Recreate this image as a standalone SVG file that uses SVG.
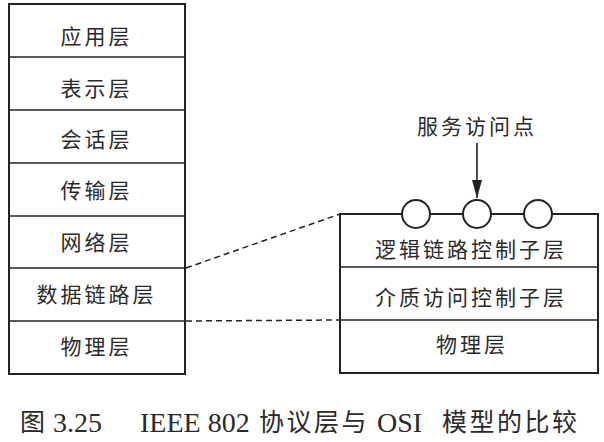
<svg xmlns="http://www.w3.org/2000/svg" width="604" height="442" viewBox="0 0 604 442">
<style>
.box{fill:none;stroke:#222;stroke-width:2}
.div{stroke:#222;stroke-width:1.6}
.lbl{font-family:"Noto Sans CJK SC","Noto Sans",sans-serif;font-size:21px;letter-spacing:3px;fill:#2a2a2a;text-anchor:middle}
.cap{font-family:"Liberation Serif","Noto Sans CJK SC",serif;font-size:28px;fill:#2a2a2a}
.capc{font-family:"Noto Sans CJK SC",sans-serif;font-size:25px;letter-spacing:2.5px;fill:#2a2a2a}
.dash{fill:none;stroke:#222;stroke-width:1.5;stroke-dasharray:6 4}
.sap{fill:#fff;stroke:#222;stroke-width:2}
</style>
<defs>
<marker id="ah" markerWidth="18" markerHeight="10" refX="18" refY="5" orient="auto" markerUnits="userSpaceOnUse">
<path d="M0,0 L18,5 L0,10 Z" fill="#222"/>
</marker>
</defs>
<rect width="604" height="442" fill="#fff"/>
<g id="osi">
<rect class="box" x="9" y="4" width="176" height="370"/>
<line class="div" x1="9" y1="57" x2="185" y2="57"/>
<line class="div" x1="9" y1="110" x2="185" y2="110"/>
<line class="div" x1="9" y1="163" x2="185" y2="163"/>
<line class="div" x1="9" y1="216" x2="185" y2="216"/>
<line class="div" x1="9" y1="268" x2="185" y2="268"/>
<line class="div" x1="9" y1="321" x2="185" y2="321"/>
</g>
<g id="osi-app"><text class="lbl" x="96.5" y="44">应用层</text></g>
<g id="osi-pres"><text class="lbl" x="96.5" y="96">表示层</text></g>
<g id="osi-sess"><text class="lbl" x="96.5" y="146.5">会话层</text></g>
<g id="osi-trans"><text class="lbl" x="96.5" y="198">传输层</text></g>
<g id="osi-net"><text class="lbl" x="96.5" y="249.5">网络层</text></g>
<g id="osi-dl"><text class="lbl" x="96.5" y="301.5">数据链路层</text></g>
<g id="osi-phy"><text class="lbl" x="96.5" y="354">物理层</text></g>
<g id="ieee">
<rect class="box" x="340" y="214" width="258" height="159"/>
<line class="div" x1="340" y1="267" x2="598" y2="267"/>
<line class="div" x1="340" y1="320" x2="598" y2="320"/>
</g>
<g id="ieee-llc"><text class="lbl" x="471" y="256.5">逻辑链路控制子层</text></g>
<g id="ieee-mac"><text class="lbl" x="471" y="304.5">介质访问控制子层</text></g>
<g id="ieee-phy"><text class="lbl" x="472" y="352">物理层</text></g>
<g id="sap1"><circle class="sap" cx="416" cy="214" r="14"/></g>
<g id="sap2"><circle class="sap" cx="477" cy="214" r="14"/></g>
<g id="sap3"><circle class="sap" cx="538" cy="214" r="14"/></g>
<g id="sap-label"><text class="lbl" x="477" y="134">服务访问点</text></g>
<g id="connectors">
<line class="dash" x1="186" y1="268" x2="340" y2="214"/>
<line class="dash" x1="186" y1="321" x2="340" y2="320"/>
<line x1="477" y1="143" x2="477" y2="198" stroke="#222" stroke-width="1.6" marker-end="url(#ah)"/>
</g>
<g id="caption">
<text class="capc" x="20" y="431">图</text>
<text class="cap" x="53" y="432">3.25</text>
<text class="cap" x="140" y="432">IEEE 802</text>
<text class="capc" x="259" y="431">协议层与</text>
<text class="cap" x="377" y="432">OSI</text>
<text class="capc" x="442" y="431">模型的比较</text>
</g>
</svg>
